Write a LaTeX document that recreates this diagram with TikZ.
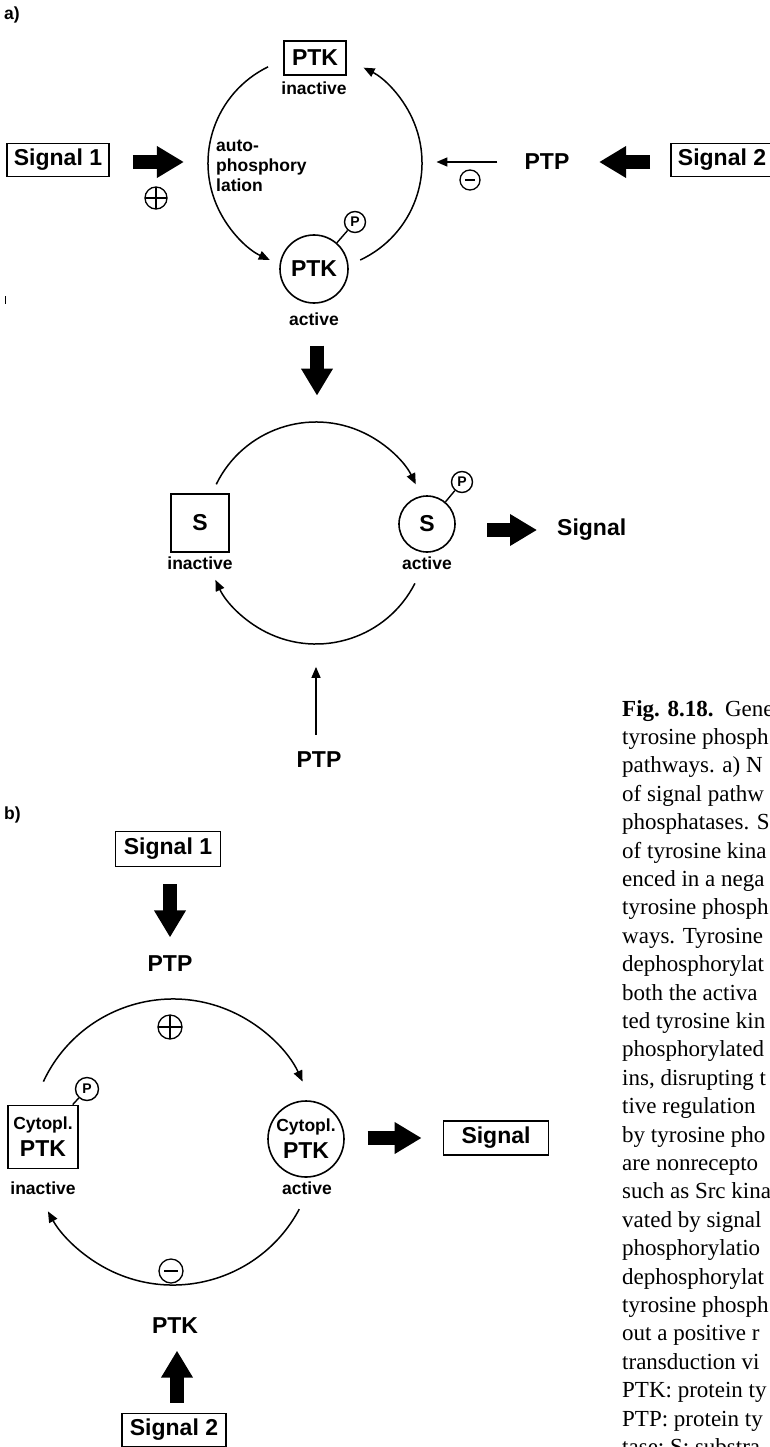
\documentclass[tikz,border=0pt]{standalone}
\usepackage{fontspec}
\setmainfont{Liberation Serif}
\setsansfont{Liberation Sans}
\usetikzlibrary{arrows.meta}
\newcommand\bigf{\fontsize{23}{27}\selectfont}
\newcommand\smallf{\fontsize{17.5}{20}\selectfont}
\newcommand\pf{\fontsize{14}{14}\selectfont}
\newcommand\capf{\fontsize{23}{28}\selectfont}

\begin{document}
\begin{tikzpicture}[x=1pt,y=1pt,>={Triangle[length=11pt,width=9pt]},font=\sffamily\bfseries\bigf,
  every node/.style={inner sep=0pt},
  kbox/.style={draw,line width=1.8pt},
  kcirc/.style={circle,draw,line width=1.6pt},
  phos/.style={circle,draw,line width=1.4pt,minimum size=21pt,font=\sffamily\bfseries\pf},
  statelbl/.style={font=\sffamily\bfseries\smallf},
  cycarr/.style={->,line width=1.5pt},
  fatarr/.style={line width=14pt,-{Triangle[length=27pt,width=30pt]}},
  sgn/.style={circle,draw,line width=1.3pt,minimum size=22pt},
  possign/.style={sgn,path picture={\draw[line width=1.3pt] (path picture bounding box.west)--(path picture bounding box.east) (path picture bounding box.north)--(path picture bounding box.south);}},
  negsign/.style={sgn,path picture={\draw[line width=1.3pt] ([xshift=5pt]path picture bounding box.west)--([xshift=-5pt]path picture bounding box.east);}},
  capline/.style={anchor=base west,font=\rmfamily\mdseries\capf}]
\useasboundingbox (0,0) rectangle (770,-1447);
\clip (0,0) rectangle (770,-1447);

\node[anchor=west] (labA) at (4,-15) {\smallf a)};
\node[kbox,minimum width=62pt,minimum height=34pt] (ptkIn) at (315,-58) {PTK};
\node[statelbl] (inA) at (314,-88) {inactive};
\node[kcirc,minimum size=68pt] (ptkAct) at (314,-269) {PTK};
\node[phos] (pA) at (355,-222) {P}; \draw[line width=1.4pt] (ptkAct) -- (pA);
\node[statelbl] (actA) at (314,-319) {active};
\coordinate (cycA) at (315,-163);
\draw[cycarr] ([shift={(116:107pt)}]cycA) arc[start angle=116,end angle=245,radius=107pt];
\draw[cycarr] ([shift={(-65:107pt)}]cycA) arc[start angle=-65,end angle=63,radius=107pt];
\node[statelbl,anchor=west,align=left] (autoA) at (216,-166) {auto-\\phosphory\\lation};
\node[kbox,minimum width=102pt,minimum height=33pt] (sig1A) at (58,-160) {Signal 1};
\draw[fatarr] ([xshift=23pt,yshift=-2pt]sig1A.east) -- ++(51,0);
\node[possign] (posA) at (156,-198) {};
\node (ptpA) at (547,-162) {PTP};
\draw[->,line width=1.5pt] ([xshift=-27pt]ptpA.west) -- ++(-61,0);
\node[negsign,minimum size=20pt] (negA) at (470,-180) {};
\node[kbox,minimum width=102pt,minimum height=33pt] (sig2A) at (722,-160) {Signal 2};
\draw[fatarr] ([xshift=-20pt,yshift=-2pt]sig2A.west) -- ++(-51,0);
\draw[line width=1pt] (5,-296) -- (5,-304);
\draw[fatarr] ([xshift=3pt,yshift=-20pt]actA.south) -- ++(0,-50);

\node[kbox,minimum size=58pt] (sIn) at (200,-523) {S};
\node[statelbl] (inS) at (200,-563) {inactive};
\node[kcirc,minimum size=56pt] (sAct) at (427,-524) {S};
\node[phos] (pS) at (462,-482) {P}; \draw[line width=1.4pt] (sAct) -- (pS);
\node[statelbl] (actS) at (427,-563) {active};
\coordinate (cycS) at (316,-533);
\draw[cycarr] ([shift={(154:111pt)}]cycS) arc[start angle=154,end angle=26,radius=111pt];
\draw[cycarr] ([shift={(-27:111pt)}]cycS) arc[start angle=-27,end angle=-155,radius=111pt];
\node[anchor=west] (sigS) at (557,-530) {Signal};
\draw[fatarr] ([xshift=-70pt]sigS.west) -- ++(50,0);
\node (ptpS) at (319,-760) {PTP};
\draw[->,line width=1.5pt] ([xshift=-3pt,yshift=17pt]ptpS.north) -- ++(0,68);

\node[anchor=west] (labB) at (4,-815) {\smallf b)};
\node[kbox,minimum width=105pt,minimum height=35pt] (sig1B) at (168,-849) {Signal 1};
\draw[fatarr] ([xshift=2pt,yshift=-17pt]sig1B.south) -- ++(0,-53);
\node (ptpB) at (170,-964) {PTP};
\coordinate (cycB) at (173,-1142);
\draw[cycarr] ([shift={(155:143pt)}]cycB) arc[start angle=155,end angle=25,radius=143pt];
\draw[cycarr] ([shift={(-28:143pt)}]cycB) arc[start angle=-28,end angle=-151,radius=143pt];
\node[possign,minimum size=24pt] (posB) at (170,-1027) {};
\node[negsign,minimum size=24pt] (negB) at (171,-1271) {};
\node[kbox,minimum width=70pt,minimum height=63pt,align=center] (ptkInB) at (43,-1137) {{\smallf Cytopl.}\\PTK};
\node[phos,minimum size=23pt] (pB) at (87,-1089) {P}; \draw[line width=1.4pt] (ptkInB) -- (pB);
\node[statelbl] (inB) at (43,-1188) {inactive};
\node[kcirc,minimum size=76pt,align=center] (ptkActB) at (306,-1139) {{\smallf Cytopl.}\\PTK};
\node[statelbl] (actB) at (307,-1188) {active};
\node[kbox,minimum width=105pt,minimum height=34pt] (sigB) at (496,-1138) {Signal};
\draw[fatarr] ([xshift=-75pt]sigB.west) -- ++(54,0);
\node (ptkB) at (175,-1326) {PTK};
\node[kbox,minimum width=104pt,minimum height=33pt] (sig2B) at (174,-1430) {Signal 2};
\draw[fatarr] ([xshift=3pt,yshift=10pt]sig2B.north) -- ++(0,52);

\foreach \ln [count=\i from 0] in {{\textbf{Fig. 8.18.}\ \ Gene},tyrosine phosph,pathways. a) N,of signal pathw,phosphatases. S,of tyrosine kina,enced in a nega,tyrosine phosph,ways. Tyrosine,dephosphorylat,both the activa,ted tyrosine kin,phosphorylated,{ins, disrupting t},tive regulation,by tyrosine pho,are nonrecepto,such as Src kina,vated by signal,phosphorylatio,dephosphorylat,tyrosine phosph,out a positive r,transduction vi,PTK: protein ty,PTP: protein ty,tase; S: substra}
  \node[capline] (cap\i) at (622,-716-28.4*\i) {\ln};
\end{tikzpicture}
\end{document}
